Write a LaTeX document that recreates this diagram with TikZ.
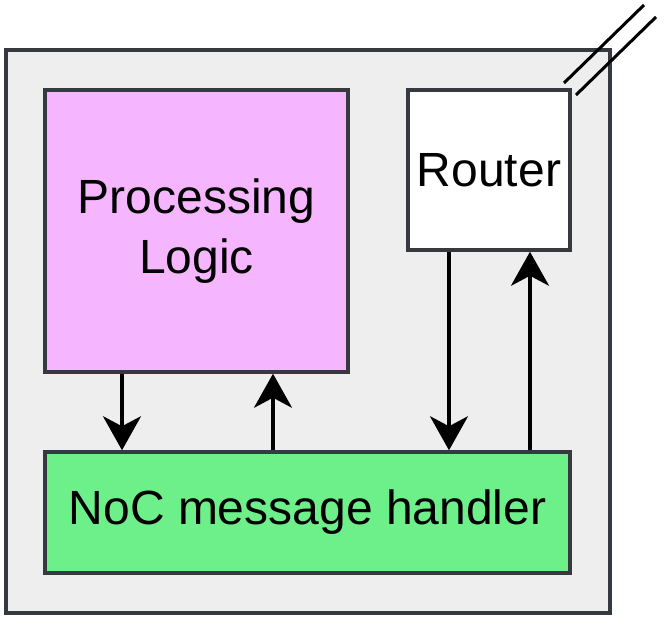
\documentclass[tikz,border=0pt]{standalone}
\usepackage{fontspec}
\setmainfont{Liberation Sans}
\usetikzlibrary{arrows.meta}
\definecolor{edge}{HTML}{36393D}
\definecolor{bgfill}{HTML}{EEEEEE}
\definecolor{plfill}{HTML}{F5B5FF}
\definecolor{nocfill}{HTML}{6DF08A}
\tikzset{
  blk/.style={draw=edge, line width=3.5pt, rectangle, inner sep=0pt, align=center,
    font=\fontsize{48}{60}\selectfont},
  flow/.style={line width=3.2pt, -{Stealth[length=34pt,width=38pt,inset=10pt]}},
  wire/.style={line width=3pt, line cap=butt}
}
\begin{document}
\begin{tikzpicture}[x=1pt,y=-1pt]
\useasboundingbox (0,0) rectangle (665,631);
\node[blk, fill=bgfill, minimum width=604pt, minimum height=563pt] (outer) at (308,331.5) {};
\node[blk, fill=plfill, minimum width=303pt, minimum height=282pt] (pl) at (196.5,231) {Processing\\Logic};
\node[blk, fill=white, minimum width=162pt, minimum height=160pt] (router) at (489,170) {Router};
\node[blk, fill=nocfill, minimum width=525pt, minimum height=121pt] (noc) at (307.5,512.5) {NoC message handler};
\draw[flow] ([xshift=-74.5pt]pl.south) -- ([xshift=-74.5pt]pl.south |- noc.north);
\draw[flow] ([xshift=76.5pt]pl.south |- noc.north) -- ([xshift=76.5pt]pl.south);
\draw[flow] ([xshift=-40pt]router.south) -- ([xshift=-40pt]router.south |- noc.north);
\draw[flow] ([xshift=41pt]router.south |- noc.north) -- ([xshift=41pt]router.south);
\coordinate (l1a) at (564,83);
\coordinate (l1b) at (644,5);
\coordinate (l2a) at (576,95);
\coordinate (l2b) at (656,17);
\draw[wire] (l1a) -- (l1b);
\draw[wire] (l2a) -- (l2b);
\end{tikzpicture}
\end{document}
